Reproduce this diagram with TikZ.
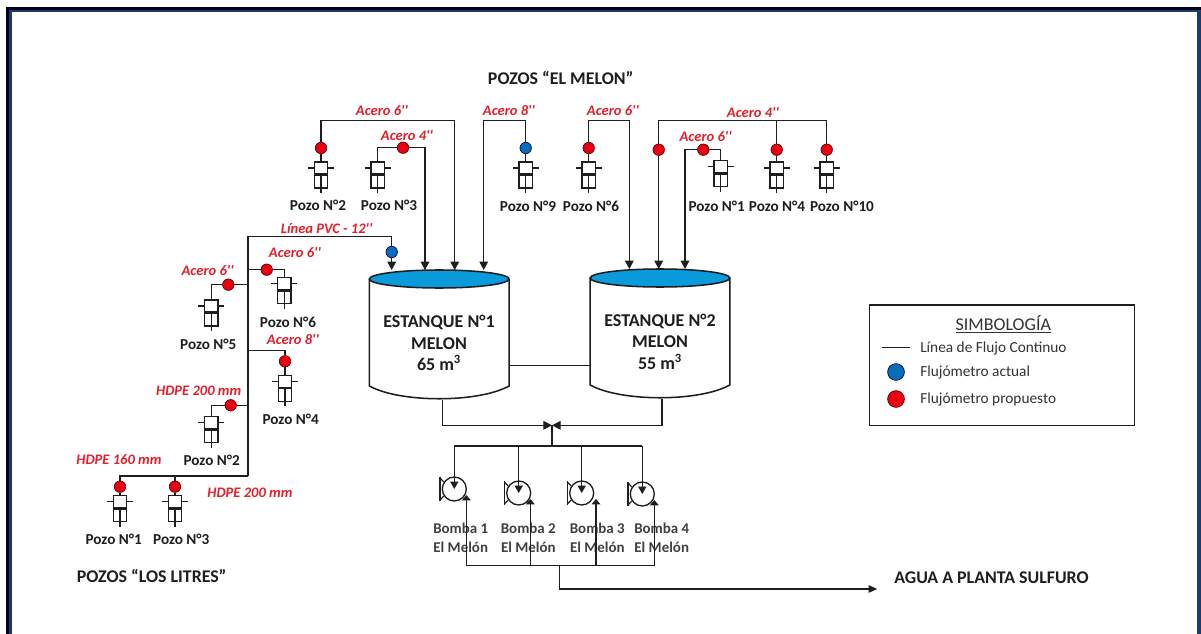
\documentclass[tikz,border=0pt]{standalone}
\usepackage{fontspec}
\setmainfont{Carlito}
\usetikzlibrary{arrows.meta}
\definecolor{navyframe}{HTML}{1B3A73}
\definecolor{lblred}{HTML}{E2202C}
\definecolor{mred}{HTML}{EA0010}
\definecolor{mblue}{HTML}{0B6DB7}
\definecolor{water}{HTML}{0A9BDC}
\definecolor{ink}{HTML}{1E1E1E}
\newcommand{\inch}{\textquotesingle\textquotesingle}
\tikzset{
  x=0.75pt,y=-0.75pt,
  pipe/.style={draw=ink,line width=0.95pt},
  inflow/.style={pipe,-{Triangle[length=6.2pt,width=6.4pt]}},
  meterred/.style={circle,draw=black!70!red,line width=0.5pt,fill=mred,minimum size=8.6pt,inner sep=0pt},
  meterblue/.style={circle,draw=black!70!blue,line width=0.5pt,fill=mblue,minimum size=8.6pt,inner sep=0pt},
  lbl/.style={font=\fontsize{10.9pt}{12pt}\selectfont\itshape\bfseries,text=lblred,inner sep=0pt},
  well label/.style={font=\fontsize{11.4pt}{13pt}\selectfont\bfseries,text=ink,inner sep=0pt},
  heading/.style={font=\fontsize{13.4pt}{15pt}\selectfont\bfseries,text=ink,inner sep=0pt},
  tanktext/.style={font=\fontsize{13.5pt}{16.2pt}\selectfont\bfseries,text=ink,inner sep=0pt,align=center},
  bomba/.style={font=\fontsize{11.2pt}{14pt}\selectfont\bfseries,text=black!75,inner sep=0pt,align=center},
  legendtext/.style={font=\fontsize{11.5pt}{13pt}\selectfont,text=black!80,inner sep=0pt,anchor=west},
  welline/.style={draw=ink,line width=1.15pt},
  well/.pic={
    \draw[welline] (-13,6) -- (13,6);
    \draw[welline,fill=white] (-6.7,12) rectangle (6.7,26);
    \draw[welline] (0,12) -- (0,31);
    \draw[draw=ink,line width=1.9pt] (-6.7,12.6) -- (6.7,12.6);
    \node[welline,fill=white,rectangle,minimum width=10pt,minimum height=9pt,inner sep=0pt] (-head) at (0,6) {};
  },
  pump/.pic={
    \node[circle,draw=ink,line width=1pt,minimum size=18pt,inner sep=0pt] (-c) at (0,0) {};
    \draw[draw=ink,line width=1.15pt] (-14.3,-12) -- (-14.3,12);
    \draw[draw=ink,line width=.9pt] (-14.3,-11) -- (-10.5,-7) (-14.3,11) -- (-10.5,7);
  },
  tank/.pic={
    \draw[welline,fill=white] (-69.85,0) -- (-69.85,107) .. controls (-39,124) and (39,124) .. (69.85,107) -- (69.85,0);
    \draw[welline,fill=water] (0,0) ellipse [x radius=69.85,y radius=9];
    \node[inner sep=0pt,minimum width=104.8pt,minimum height=90pt,anchor=north] (-body) at (0,0) {};
    \coordinate (-top) at (0,-9);
  },
}
\begin{document}
\begin{tikzpicture}
\useasboundingbox (0,0) rectangle (1201,634);
\fill[white] (0,0) rectangle (1201,634);
% frame
\fill[black!90!blue] (6,7) rectangle (1201,634);
\fill[navyframe] (9.3,10) rectangle (1201,634);
\fill[white] (12,12.5) rectangle (1197,634);

% headings
\node[heading] (h1) at (560.7,78) {POZOS “EL MELON”};
\node[heading] (h2) at (151.7,576) {POZOS “LOS LITRES”};
\node[heading,anchor=west] (h3) at (894,578) {AGUA A PLANTA SULFURO};

% tanks
\pic (tank1) at (439.2,279) {tank};
\pic (tank2) at (660,278) {tank};
\node[tanktext] (tl1) at (439,343) {ESTANQUE N°1\\MELON\\65 m\textsuperscript{3}};
\node[tanktext] (tl2) at (660,341.5) {ESTANQUE N°2\\MELON\\55 m\textsuperscript{3}};

% wells: El Melon
\pic (e2) at (321,162) {well};
\pic (e3) at (377.7,162) {well};
\pic (e9) at (525.7,162) {well};
\pic (e6) at (588.7,162) {well};
\pic (e1) at (720.7,160.7) {well};
\pic (e4) at (776.7,162) {well};
\pic (e10) at (826.7,162) {well};
% wells: Los Litres
\pic (l6) at (284.3,277.7) {well};
\pic (l5) at (211.3,300) {well};
\pic (l4) at (285,375.3) {well};
\pic (l2) at (211.3,416.7) {well};
\pic (l1) at (120,495.7) {well};
\pic (l3) at (175,495.7) {well};

% meters
\node[meterred] (me2) at (321,148) {};
\node[meterred] (me3) at (403,147.7) {};
\node[meterblue] (me9) at (525.7,148) {};
\node[meterred] (me6) at (588.7,148) {};
\node[meterred] (mt2) at (658.7,149.7) {};
\node[meterred] (me1) at (703.3,149.7) {};
\node[meterred] (me4) at (776.7,149.7) {};
\node[meterred] (me10) at (826.7,149.7) {};
\node[meterblue] (mpvc) at (391.7,252) {};
\node[meterred] (ml6) at (266.7,269.7) {};
\node[meterred] (ml5) at (228.3,284.7) {};
\node[meterred] (ml4) at (285,361.3) {};
\node[meterred] (ml2) at (230.7,405.3) {};
\node[meterred] (ml1) at (120,486.7) {};
\node[meterred] (ml3) at (175,486.7) {};

% named junctions
\coordinate (y120) at (0,120.3);
\coordinate (tr) at (248,236.7);
\coordinate (trb) at (248,476);
\coordinate (va) at (552,425.3);
\coordinate (vb) at (552,446);
\coordinate (obus) at (0,565.7);

% El Melon connectors
\draw[inflow] (me2) -- (me2 |- y120) -- (454.7,120.3) -- (454.7,0 |- tank1-top);
\draw[pipe] (me2) -- (e2-head);
\draw[inflow] (me3) -- (425,147.7) -- (425,0 |- tank1-top);
\draw[pipe] (me3) -| (e3-head.north);
\draw[pipe] (me9) -- (e9-head);
\draw[inflow] (me9) -- (me9 |- y120) -- (483.7,120.3) -- (483.7,0 |- tank1-top);
\draw[pipe] (me6) -- (e6-head);
\draw[inflow] (me6) -- (me6 |- y120) -- (629.3,120.3) -- (629.3,0 |- tank2-top);
\draw[inflow] (mt2) -- (mt2 |- tank2-top);
\draw[pipe] (mt2) -- (mt2 |- y120) -- (me10 |- y120) -- (me10);
\draw[pipe] (me4) -- (me4 |- y120);
\draw[pipe] (me4) -- (e4-head);
\draw[pipe] (me10) -- (e10-head);
\draw[inflow] (me1) -- (685,149.7) -- (685,0 |- tank2-top);
\draw[pipe] (me1) -| (e1-head.north);

% Los Litres connectors
\draw[pipe] (trb) -- (tr) -- (tr -| mpvc) -- (mpvc);
\draw[inflow] (mpvc) -- (mpvc |- tank1-top);
\draw[pipe] (ml6 -| tr) -- (ml6);
\draw[pipe] (ml6) -| (l6-head.north);
\draw[pipe] (ml5 -| tr) -- (ml5);
\draw[pipe] (ml5) -| (l5-head.north);
\draw[pipe] (ml4 |- 0,350.3) -- (248,350.3);
\draw[pipe] (ml4 |- 0,350.3) -- (ml4);
\draw[pipe] (ml4) -- (l4-head);
\draw[pipe] (ml2 -| tr) -- (ml2);
\draw[pipe] (ml2) -| (l2-head.north);
\draw[pipe] (trb) -- (trb -| ml1) -- (ml1);
\draw[pipe] (ml3) -- (ml3 |- trb);
\draw[pipe] (ml1) -- (l1-head);
\draw[pipe] (ml3) -- (l3-head);

% tank link
\draw[pipe,line width=1.15pt] (tank1-body.east |- 0,365.7) -- (tank2-body.west |- 0,365.7);

% well labels
\node[well label] (t1) at (318,205) {Pozo N°2};
\node[well label] (t2) at (389,205) {Pozo N°3};
\node[well label] (t3) at (528,206) {Pozo N°9};
\node[well label] (t4) at (591,206) {Pozo N°6};
\node[well label] (t5) at (716.7,206) {Pozo N°1};
\node[well label] (t6) at (777,206) {Pozo N°4};
\node[well label] (t7) at (842,206) {Pozo N°10};
\node[well label] (t8) at (288,322.7) {Pozo N°6};
\node[well label] (t9) at (208.3,344.3) {Pozo N°5};
\node[well label] (t10) at (290.7,419) {Pozo N°4};
\node[well label] (t11) at (211.7,460) {Pozo N°2};
\node[well label] (t12) at (113.7,539) {Pozo N°1};
\node[well label] (t13) at (181.3,539) {Pozo N°3};

% pipe labels
\node[lbl] (a1) at (382,111) {Acero 6\inch};
\node[lbl] (a2) at (407,135.7) {Acero 4\inch};
\node[lbl] (a3) at (509,111) {Acero 8\inch};
\node[lbl] (a4) at (613,111) {Acero 6\inch};
\node[lbl] (a5) at (753,113) {Acero 4\inch};
\node[lbl] (a6) at (705.7,137) {Acero 6\inch};
\node[lbl] (a7) at (326.7,229) {Línea PVC - 12\inch};
\node[lbl] (a8) at (295,252.7) {Acero 6\inch};
\node[lbl] (a9) at (207.7,271) {Acero 6\inch};
\node[lbl] (a10) at (293,340) {Acero 8\inch};
\node[lbl] (a11) at (198.7,391) {HDPE 200 mm};
\node[lbl] (a12) at (119,460) {HDPE 160 mm};
\node[lbl] (a13) at (250,493) {HDPE 200 mm};

% pumps
\pic (p1) at (454.3,489) {pump};
\pic (p2) at (518.7,493) {pump};
\pic (p3) at (581.7,493) {pump};
\pic (p4) at (642.3,494) {pump};
\node[bomba] (b1) at (460.7,537.5) {Bomba 1\\El Melón};
\node[bomba] (b2) at (528.3,537.5) {Bomba 2\\El Melón};
\node[bomba] (b3) at (597.3,537.5) {Bomba 3\\El Melón};
\node[bomba] (b4) at (661.7,537.5) {Bomba 4\\El Melón};

% collection and valve
\draw[pipe,-{Triangle[length=6.5pt,width=6.5pt]}] (442.3,0 |- tank1-body.south) -- (442.3,425.3) -- (va);
\draw[pipe,-{Triangle[length=6.5pt,width=6.5pt]}] (662,0 |- tank2-body.south) -- (662,425.3) -- (va);
\draw[pipe] (va) -- (vb);
\draw[pipe] (vb -| p1-c) -- (vb -| p4-c);
\foreach \p in {p1,p2,p3,p4}
  \draw[pipe,-{Triangle[length=5.5pt,width=6pt]}] (vb -| \p-c) -- (\p-c.center);

% outlets
\coordinate (o1) at (466.3,495);
\coordinate (o2) at (530.3,499);
\coordinate (o3) at (596,499);
\coordinate (o4) at (654.3,500);
\foreach \o in {o1,o2,o3,o4}
  \draw[pipe,-{Triangle[length=4pt,width=6.5pt]}] (obus -| \o) -- (\o);
\draw[pipe] (obus -| o1) -- (obus -| o4);
\draw[pipe,-{Triangle[length=6.5pt,width=5.5pt]}] (559.3,565.7) -- (559.3,589) -- (877.3,589);

% legend
\node[draw=ink,line width=1.1pt,minimum width=198.9pt,minimum height=90.5pt,inner sep=0pt] (legend) at (1002,365.3) {};
\node[font=\fontsize{13.5pt}{15pt}\selectfont,text=black!80,inner sep=0pt] (lt) at (1003.3,324.3) {\underline{SIMBOLOGÍA}};
\coordinate (la) at (881.7,347.7);
\coordinate (lb) at (910,347.7);
\draw[draw=ink,line width=.6pt] (la) -- (lb);
\node[legendtext] (l1t) at (920,348) {Línea de Flujo Continuo};
\node[meterblue,minimum size=12.6pt] (lm1) at (896,372) {};
\node[legendtext] (l2t) at (920,372.7) {Flujómetro actual};
\node[meterred,minimum size=12.6pt] (lm2) at (896,399) {};
\node[legendtext] (l3t) at (920,399) {Flujómetro propuesto};
\end{tikzpicture}
\end{document}
